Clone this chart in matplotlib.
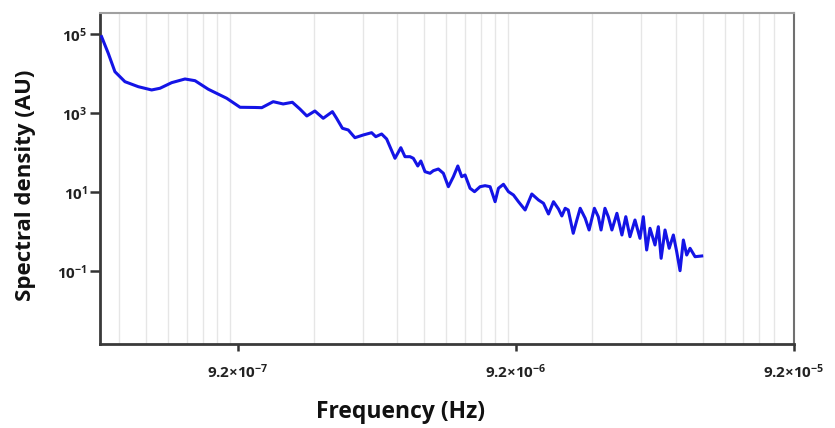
import numpy as np
import matplotlib
matplotlib.use("Agg")
import matplotlib.pyplot as plt

plt.rcParams['font.family'] = ['Open Sans', 'DejaVu Sans']
plt.rcParams['mathtext.fontset'] = 'custom'
plt.rcParams['mathtext.rm'] = 'Open Sans:bold'
plt.rcParams['mathtext.bf'] = 'Open Sans:bold'
plt.rcParams['mathtext.default'] = 'rm'

# spectrum (log10 of frequency in Hz, log10 of density)
log_freq = [-6.526, -6.502, -6.478, -6.442, -6.394, -6.346, -6.316, -6.274, -6.226, -6.190,
            -6.142, -6.076, -6.028, -5.974, -5.950, -5.909, -5.873, -5.840, -5.813, -5.788,
            -5.759, -5.729, -5.696, -5.681, -5.660, -5.639, -5.615, -5.585, -5.555, -5.540,
            -5.519, -5.501, -5.489, -5.471, -5.450, -5.435, -5.417, -5.405, -5.389, -5.378,
            -5.363, -5.345, -5.333, -5.315, -5.297, -5.279, -5.261, -5.245, -5.231, -5.219,
            -5.201, -5.185, -5.165, -5.147, -5.129, -5.111, -5.099, -5.081, -5.063, -5.045,
            -5.027, -5.003, -4.979, -4.955, -4.937, -4.919, -4.901, -4.883, -4.871, -4.859,
            -4.848, -4.830, -4.817, -4.805, -4.787, -4.773, -4.754, -4.740, -4.730, -4.716,
            -4.704, -4.691, -4.673, -4.655, -4.641, -4.626, -4.608, -4.590, -4.578, -4.566,
            -4.554, -4.536, -4.524, -4.514, -4.500, -4.485, -4.470, -4.458, -4.446, -4.434,
            -4.422, -4.410, -4.392, -4.368]
log_psd = [4.942, 4.521, 4.054, 3.801, 3.674, 3.591, 3.634, 3.776, 3.869, 3.826,
           3.608, 3.380, 3.152, 3.147, 3.142, 3.294, 3.236, 3.279, 3.109, 2.932,
           3.058, 2.873, 3.041, 2.873, 2.620, 2.577, 2.381, 2.450, 2.508, 2.407,
           2.475, 2.349, 2.153, 1.859, 2.128, 1.900, 1.900, 1.859, 1.664, 1.791,
           1.520, 1.479, 1.545, 1.588, 1.479, 1.139, 1.393, 1.664, 1.393, 1.436,
           1.099, 1.013, 1.139, 1.165, 1.139, 0.759, 1.099, 1.200, 1.013, 0.929,
           0.759, 0.549, 0.954, 0.802, 0.719, 0.447, 0.759, 0.574, 0.397, 0.592,
           0.549, -0.042, 0.295, 0.592, 0.338, 0.042, 0.592, 0.379, 0.042, 0.592,
           0.379, 0.042, 0.465, -0.085, 0.379, -0.128, 0.295, -0.169, 0.379, -0.465,
           0.085, -0.338, 0.125, -0.676, 0.042, -0.422, -0.085, -0.508, -0.990, -0.212,
           -0.592, -0.422, -0.635, -0.617]

x_ticks = [9.2e-7, 9.2e-6, 9.2e-5]
x_ticklabels = ['9.2×10$^{-7}$', '9.2×10$^{-6}$', '9.2×10$^{-5}$']
y_ticks = [1e5, 1e3, 1e1, 1e-1]
y_ticklabels = ['10$^{5}$', '10$^{3}$', '10$^{1}$', '10$^{-1}$']

freq = 10.0 ** np.array(log_freq)
psd = 10.0 ** np.array(log_psd)

fig = plt.figure(figsize=(8.35, 4.28), dpi=100)
ax = fig.add_axes([100 / 835, 1 - 344 / 428, 694 / 835, 331 / 428])

ax.plot(freq, psd, color='#1414e6', lw=2.2, zorder=3)

ax.set_xscale('log')
ax.set_yscale('log')
ax.set_xlim(2.94e-7, 9.2e-5)
ax.set_ylim(1.42e-3, 3.48e5)

# pale vertical grid (offset from the labelled ticks as in the original)
grid_base = 8.63e-7
grid = [k * grid_base * 10.0 ** n for n in (-1, 0, 1) for k in range(1, 10)]
grid = [g for g in grid if 2.94e-7 < g < 9.2e-5]
ax.set_xticks(grid, minor=True)
ax.tick_params(axis='x', which='minor', length=0)
ax.grid(axis='x', which='minor', color='#e6e6e6', lw=1.0, zorder=0)

ax.set_xticks(x_ticks)
ax.set_xticklabels(x_ticklabels, fontweight='bold')
ax.set_yticks(y_ticks)
ax.set_yticklabels(y_ticklabels, fontweight='bold')
ax.yaxis.set_minor_locator(matplotlib.ticker.NullLocator())

ax.tick_params(axis='x', which='major', length=5, width=1.8, color='#333333',
               labelsize=11, pad=8, labelcolor='#222222')
ax.tick_params(axis='y', which='major', length=7, width=1.8, color='#333333',
               labelsize=11, pad=2, labelcolor='#222222')

for side in ('left', 'bottom'):
    ax.spines[side].set_color('#3a3a3a')
    ax.spines[side].set_linewidth(2)
ax.spines['top'].set_color('#a0a0a0')
ax.spines['top'].set_linewidth(1.5)
ax.spines['right'].set_color('#707070')
ax.spines['right'].set_linewidth(1.5)

fig.text(400 / 835, 1 - 412 / 428, 'Frequency (Hz)', ha='center', va='center',
         fontsize=16.5, fontweight='bold', color='#111111')
fig.text(26 / 835, 1 - 185 / 428, 'Spectral density (AU)', ha='center', va='center',
         rotation=90, fontsize=16, fontweight='bold', color='#111111')

fig.savefig('out.png', dpi=100)
